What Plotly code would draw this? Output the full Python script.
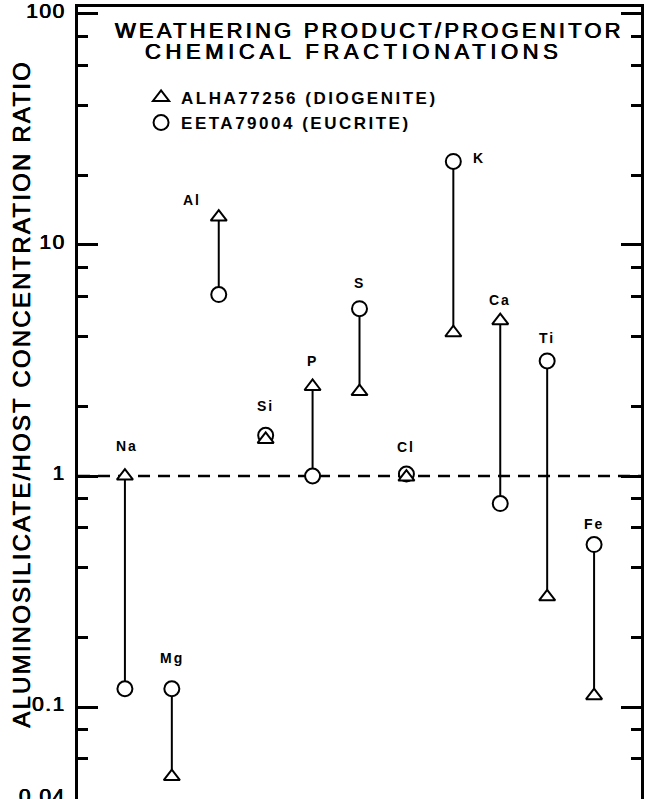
import math
import plotly.graph_objects as go

# ---------------- data ----------------
ELEMENTS = ["Na", "Mg", "Al", "Si", "P", "S", "Cl", "K", "Ca", "Ti", "Fe"]
# ALHA77256 (diogenite) - triangles
DIOGENITE = [1.0, 0.050, 13.2, 1.44, 2.44, 2.32, 0.99, 4.17, 4.7, 0.30, 0.112]
# EETA79004 (eucrite) - circles
EUCRITE = [0.12, 0.12, 6.1, 1.50, 1.00, 5.3, 1.02, 23.0, 0.76, 3.15, 0.505]
UNITY = 1.0

MAJOR_TICKS = [0.04, 0.1, 1, 10, 100]
MAJOR_LABELS = ["0.04", "0.1", "1", "10", "100"]
MINOR_TICKS = [0.06, 0.08, 0.2, 0.4, 0.6, 0.8, 2, 4, 6, 8, 20, 40, 60, 80]
Y_MIN, Y_MAX = 0.04, 100

TITLE_LINES = ["WEATHERING PRODUCT/PROGENITOR", "CHEMICAL FRACTIONATIONS"]
Y_TITLE = "ALUMINOSILICATE/HOST CONCENTRATION RATIO"
NAME_DIO = "ALHA77256 (DIOGENITE)"
NAME_EUC = "EETA79004 (EUCRITE)"

# label placement (style): pixel shifts from the upper marker of each element
LABEL_SHIFT = {"Na": (2, 30), "Mg": (0, 31), "Al": (-27, 17), "Si": (0, 29),
               "P": (0, 26), "S": (0, 26), "Cl": (0, 27), "K": (26, 3),
               "Ca": (0, 21), "Ti": (0, 23), "Fe": (0, 21)}

FONT = "Liberation Sans"
HEAVY = "0.4px 0 0 #000, -0.4px 0 0 #000"   # slightly thickens scanned-looking lettering


def spaced(text, px):
    return f'<span style="letter-spacing:{px}px">{text}</span>'


fig = go.Figure()

# connectors between the two meteorites for each element
cx, cy = [], []
for el, d, e in zip(ELEMENTS, DIOGENITE, EUCRITE):
    cx += [el, el, None]
    cy += [d, e, None]
fig.add_trace(go.Scatter(x=cx, y=cy, mode="lines", line=dict(color="black", width=2),
                         showlegend=False, hoverinfo="skip"))

fig.add_trace(go.Scatter(x=ELEMENTS, y=EUCRITE, mode="markers", name=spaced(NAME_EUC, 2.5),
                         legendgroup="euc", legendrank=2,
                         marker=dict(symbol="circle", size=15, color="white",
                                     line=dict(color="black", width=2))))
fig.add_trace(go.Scatter(x=ELEMENTS, y=DIOGENITE, mode="markers", name=spaced(NAME_DIO, 2.5),
                         legendgroup="dio", legendrank=1,
                         marker=dict(symbol="triangle-up", size=14, color="white",
                                     line=dict(color="black", width=2))))

# reference line at ratio = 1
fig.add_hline(y=UNITY, line=dict(color="black", width=2.5, dash="12px,8px"), layer="below")

# element labels
for el, d, e in zip(ELEMENTS, DIOGENITE, EUCRITE):
    dx, dy = LABEL_SHIFT[el]
    fig.add_annotation(x=el, y=math.log10(max(d, e)), text=spaced(el, 2), showarrow=False,
                       xshift=dx, yshift=dy, xanchor="center", yanchor="middle",
                       font=dict(family=FONT, size=14, color="black", weight="bold"))

# title lines
fig.add_annotation(xref="paper", yref="paper", x=0.517, y=0.9697, text=spaced(TITLE_LINES[0], 3.2),
                   showarrow=False, xanchor="center", yanchor="middle",
                   font=dict(family=FONT, size=22, color="black", shadow=HEAVY))
fig.add_annotation(xref="paper", yref="paper", x=0.490, y=0.9432, text=spaced(TITLE_LINES[1], 4.6),
                   showarrow=False, xanchor="center", yanchor="middle",
                   font=dict(family=FONT, size=22, color="black", shadow=HEAVY))

# y-axis title
fig.add_annotation(xref="paper", yref="paper", x=-0.101, y=0.512, text=spaced(Y_TITLE, 2.2),
                   textangle=-90, showarrow=False, xanchor="center", yanchor="middle",
                   font=dict(family=FONT, size=24, color="black", shadow=HEAVY))

fig.update_layout(
    width=647, height=799,
    margin=dict(l=78, r=6, t=7, b=0, autoexpand=False),
    paper_bgcolor="white", plot_bgcolor="white",
    font=dict(family=FONT, color="black"),
    showlegend=True,
    legend=dict(x=0.112, y=0.908, xanchor="left", yanchor="top",
                bgcolor="rgba(0,0,0,0)", traceorder="grouped", tracegroupgap=0,
                font=dict(family=FONT, size=17, color="black", weight="bold")),
)

fig.update_xaxes(type="category", categoryorder="array", categoryarray=ELEMENTS,
                 range=[-1, len(ELEMENTS)], side="top", showline=True, linecolor="black",
                 linewidth=3, ticks="", showticklabels=False, showgrid=False, zeroline=False,
                 automargin=False)

fig.update_yaxes(type="log", range=[math.log10(Y_MIN), math.log10(Y_MAX) + 0.03],
                 tickmode="array", tickvals=MAJOR_TICKS,
                 ticktext=[spaced(t, 1.5) for t in MAJOR_LABELS],
                 ticks="inside", ticklen=20, tickwidth=2.5, tickcolor="black",
                 showline=True, linecolor="black", linewidth=3, mirror="allticks",
                 showgrid=False, zeroline=False, automargin=False,
                 tickfont=dict(family=FONT, size=21, color="black", shadow=HEAVY),
                 ticklabelshift=-3, ticklabelstandoff=5, ticklabeloverflow="allow",
                 minor=dict(tickmode="array", tickvals=MINOR_TICKS, ticks="inside",
                            ticklen=10, tickwidth=2.5, tickcolor="black", showgrid=False))

fig.write_html("out.html", config={"displayModeBar": False},
               post_script="document.body.style.margin='0';document.body.style.overflow='hidden';")
